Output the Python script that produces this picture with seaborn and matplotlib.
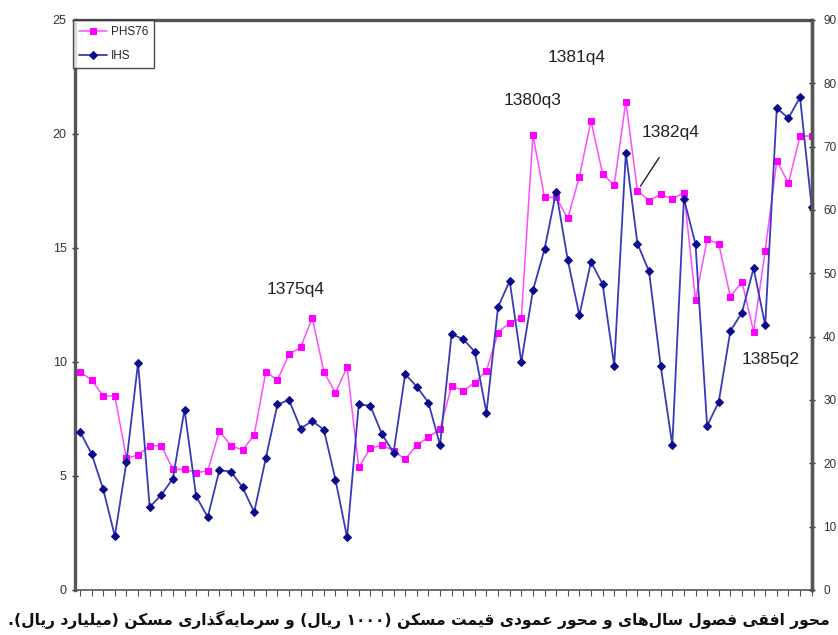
import matplotlib
matplotlib.use("Agg")
import matplotlib.pyplot as plt
import numpy as np
import pandas as pd
import seaborn as sns

# quarterly categories 1370q4 .. 1386q3
QUARTERS = ["1370q4"] + [f"{y}q{q}" for y in range(1371, 1386) for q in range(1, 5)] + ["1386q1", "1386q2", "1386q3"]

# housing price, left axis (1000 rial)
PHS76 = [
    9.57, 9.21, 8.51, 8.51, 5.78, 5.92, 6.33, 6.33, 5.29, 5.29,
    5.15, 5.22, 6.97, 6.33, 6.14, 6.80, 9.57, 9.21, 10.34, 10.64,
    11.94, 9.57, 8.65, 9.78, 5.38, 6.21, 6.36, 6.10, 5.73, 6.36,
    6.70, 7.05, 8.95, 8.74, 9.09, 9.62, 11.29, 11.73, 11.91, 19.96,
    17.22, 17.22, 16.30, 18.13, 20.58, 18.25, 17.76, 21.42, 17.51, 17.08,
    17.35, 17.15, 17.43, 12.72, 15.38, 15.18, 12.87, 13.52, 11.33, 14.88,
    18.83, 17.84, 19.91, 19.91,
]

# housing investment, right axis (billion rial)
IHS = [
    25.0, 21.5, 15.9, 8.5, 20.2, 35.9, 13.1, 15.0, 17.6, 28.5,
    14.8, 11.5, 18.9, 18.7, 16.2, 12.3, 20.8, 29.3, 30.0, 25.5,
    26.7, 25.3, 17.4, 8.3, 29.3, 29.1, 24.6, 21.7, 34.1, 32.1,
    29.6, 22.9, 40.4, 39.6, 37.6, 28.0, 44.7, 48.8, 36.0, 47.3,
    53.8, 62.9, 52.1, 43.4, 51.8, 48.3, 35.4, 69.0, 54.7, 50.3,
    35.4, 22.9, 61.8, 54.6, 25.9, 29.7, 40.9, 43.8, 50.8, 41.8,
    76.1, 74.5, 77.8, 60.5,
]

LEFT_TICKS = [0, 5, 10, 15, 20, 25]
RIGHT_TICKS = [0, 10, 20, 30, 40, 50, 60, 70, 80, 90]

CAPTION = "محور افقی فصول سال\u200cهای و محور عمودی قیمت مسکن (۱۰۰۰ ریال) و سرمایه\u200cگذاری مسکن (میلیارد ریال)."

# (label, series, offset in pixels of the text centre from the point)
NOTES = [
    ("1375q4", "PHS76", (-17, 28)),
    ("1380q3", "PHS76", (0, 34)),
    ("1381q4", "PHS76", (-14, 63)),
    ("1385q2", "PHS76", (17, -28)),
]

# isolated, final, initial, medial
FORMS = {
    "ا": ("\uFE8D", "\uFE8E", None, None),
    "آ": ("\uFE81", "\uFE82", None, None),
    "د": ("\uFEA9", "\uFEAA", None, None),
    "ذ": ("\uFEAB", "\uFEAC", None, None),
    "ر": ("\uFEAD", "\uFEAE", None, None),
    "ز": ("\uFEAF", "\uFEB0", None, None),
    "و": ("\uFEED", "\uFEEE", None, None),
    "ب": ("\uFE8F", "\uFE90", "\uFE91", "\uFE92"),
    "ت": ("\uFE95", "\uFE96", "\uFE97", "\uFE98"),
    "ح": ("\uFEA1", "\uFEA2", "\uFEA3", "\uFEA4"),
    "س": ("\uFEB1", "\uFEB2", "\uFEB3", "\uFEB4"),
    "ص": ("\uFEB9", "\uFEBA", "\uFEBB", "\uFEBC"),
    "ع": ("\uFEC9", "\uFECA", "\uFECB", "\uFECC"),
    "ف": ("\uFED1", "\uFED2", "\uFED3", "\uFED4"),
    "ق": ("\uFED5", "\uFED6", "\uFED7", "\uFED8"),
    "ل": ("\uFEDD", "\uFEDE", "\uFEDF", "\uFEE0"),
    "م": ("\uFEE1", "\uFEE2", "\uFEE3", "\uFEE4"),
    "ن": ("\uFEE5", "\uFEE6", "\uFEE7", "\uFEE8"),
    "ه": ("\uFEE9", "\uFEEA", "\uFEEB", "\uFEEC"),
    "ک": ("\uFB8E", "\uFB8F", "\uFB90", "\uFB91"),
    "گ": ("\uFB92", "\uFB93", "\uFB94", "\uFB95"),
    "ی": ("\uFBFC", "\uFBFD", "\uFBFE", "\uFBFF"),
}


def shape_rtl(text: str) -> str:
    def dual(c):
        return c in FORMS and FORMS[c][2] is not None

    shaped = []
    for i, c in enumerate(text):
        if c not in FORMS:
            shaped.append(c)
            continue
        prev = text[i - 1] if i > 0 else ""
        nxt = text[i + 1] if i + 1 < len(text) else ""
        link_prev = dual(prev)
        link_next = dual(c) and nxt in FORMS
        iso, fin, ini, med = FORMS[c]
        if link_prev and link_next:
            shaped.append(med)
        elif link_prev:
            shaped.append(fin)
        elif link_next:
            shaped.append(ini)
        else:
            shaped.append(iso)
    shaped = [c for c in shaped if c != "\u200c"]

    # visual order: reverse everything but keep digit runs left-to-right
    runs, cur, cur_digit = [], "", None
    for c in shaped:
        is_digit = c.isdigit()
        if cur and is_digit != cur_digit:
            runs.append((cur, cur_digit))
            cur = ""
        cur += c
        cur_digit = is_digit
    if cur:
        runs.append((cur, cur_digit))
    mirror = {"(": ")", ")": "("}
    out = ""
    for run, is_digit in reversed(runs):
        out += run if is_digit else "".join(mirror.get(c, c) for c in reversed(run))
    return out


sns.set_theme(style="white")
narrow = ["Liberation Sans", "DejaVu Sans"]
plt.rcParams["font.family"] = narrow

df = pd.DataFrame({"quarter": QUARTERS, "PHS76": PHS76, "IHS": IHS})
df["pos"] = np.arange(len(df))

fig = plt.figure(figsize=(8.38, 6.35), dpi=100)
ax = fig.add_axes([75 / 838, 45 / 635, 737 / 838, 570 / 635])
ax2 = ax.twinx()

sns.lineplot(data=df, x="pos", y="PHS76", ax=ax, color="#ff4dff", linewidth=1.1,
             marker="s", markersize=4.4, markerfacecolor="#ff00ff", markeredgecolor="#ff00ff",
             label="PHS76", legend=False)
sns.lineplot(data=df, x="pos", y="IHS", ax=ax2, color="#3a3ab8", linewidth=1.3,
             marker="D", markersize=3.8, markerfacecolor="#0a0a8c", markeredgecolor="#0a0a8c",
             label="IHS", legend=False)

n = len(df)
ax.set_xlim(-0.43, n - 1 + 0.03)
ax.set_ylim(LEFT_TICKS[0], LEFT_TICKS[-1])
ax2.set_ylim(RIGHT_TICKS[0], RIGHT_TICKS[-1])
ax.set_yticks(LEFT_TICKS)
ax2.set_yticks(RIGHT_TICKS)
ax.set_xticks(df["pos"])
ax.set_xticklabels([])
ax.set_xlabel("")
ax.set_ylabel("")
ax2.set_ylabel("")

ax.tick_params(axis="y", labelsize=9, labelcolor="#333333", length=4, width=1, direction="inout", pad=4, left=True)
ax.tick_params(axis="x", length=4, width=0.8, direction="out", color="#555555", bottom=True)
ax2.tick_params(axis="y", labelsize=8.5, labelcolor="#333333", length=4, width=1, direction="inout", pad=6, right=True)

for spine in ax.spines.values():
    spine.set_visible(True)
    spine.set_color("#555555")
    spine.set_linestyle((0, (1, 1)))
    spine.set_linewidth(2.4)
ax.spines["bottom"].set_linewidth(1.2)
for name, spine in ax2.spines.items():
    spine.set_visible(name == "right")
    spine.set_color("#555555")
    spine.set_linestyle((0, (1, 1)))
    spine.set_linewidth(2.4)

# annotations for selected quarters
note_font = dict(fontsize=12.5, color="#222222", family=narrow, ha="center", va="center")
for label, series, offset in NOTES:
    i = QUARTERS.index(label)
    ax.annotate(label, xy=(i, df.loc[i, series]), xytext=offset, textcoords="offset pixels", **note_font)

i = QUARTERS.index("1382q4")
ax.annotate("1382q4", xy=(i, df.loc[i, "PHS76"]), xytext=(33, 58), textcoords="offset pixels",
            arrowprops=dict(arrowstyle="-", color="#222222", lw=1, relpos=(0.5, 0), shrinkA=12, shrinkB=4),
            **note_font)

handles = ax.get_lines()[:1] + ax2.get_lines()[:1]
leg = ax2.legend(handles, ["PHS76", "IHS"], loc="upper left", bbox_to_anchor=(-0.003, 1.0),
                 frameon=True, fancybox=False, borderaxespad=0, fontsize=8.5,
                 handlelength=2.4, borderpad=0.5, labelspacing=1.0, handletextpad=0.3)
leg.get_frame().set_edgecolor("#222222")
leg.get_frame().set_linewidth(1.0)

fig.text(0.5, 15 / 635, shape_rtl(CAPTION), ha="center", va="center", fontsize=11.2,
         fontweight="bold", family=["DejaVu Sans", "Noto Sans"], color="#111111")

fig.savefig("out.png", dpi=100)
